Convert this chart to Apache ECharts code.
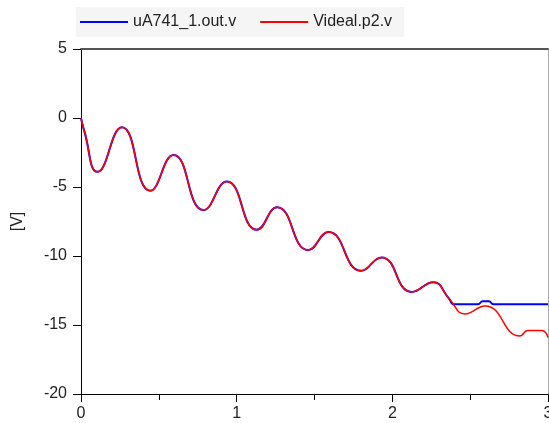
<!DOCTYPE html>
<html>
<head>
<meta charset="utf-8">
<script src="https://cdn.jsdelivr.net/npm/echarts@6/dist/echarts.min.js"></script>
<style>html,body{margin:0;padding:0;background:#fff}#c{width:549px;height:423px}</style>
</head>
<body>
<div id="c"></div>
<script>
const seriesNames = ['uA741_1.out.v', 'Videal.p2.v'];
const xTicks = [0, 1, 2, 3];
const yTicks = [-20, -15, -10, -5, 0, 5];
// time [s], value [V]
const idealT = [0, 0.02, 0.107, 0.263, 0.445, 0.595, 0.787, 0.937, 1.13, 1.26, 1.46, 1.59, 1.8, 1.93, 2.125, 2.263, 2.365, 2.467, 2.595, 2.82, 2.87, 2.96, 3.0];
const idealV = [0, -0.9, -3.9, -0.67, -5.27, -2.68, -6.67, -4.6, -8.1, -6.47, -9.57, -8.26, -11.07, -10.1, -12.6, -11.9, -13.1, -14.2, -13.62, -15.8, -15.4, -15.4, -15.9];
const opampT = [0, 0.02, 0.107, 0.263, 0.445, 0.595, 0.787, 0.937, 1.13, 1.26, 1.46, 1.59, 1.8, 1.93, 2.125, 2.263, 2.365, 2.395, 2.55, 2.58, 2.62, 2.65, 3.0];
const opampV = [0, -0.9, -3.9, -0.67, -5.27, -2.68, -6.67, -4.6, -8.1, -6.47, -9.57, -8.26, -11.07, -10.1, -12.6, -11.9, -13.1, -13.5, -13.5, -13.28, -13.28, -13.5, -13.5];

const zip = (a, b) => a.map((t, i) => [t, b[i]]);
const font = 'Liberation Sans, Arial, sans-serif';
const chart = echarts.init(document.getElementById('c'), null, {renderer: 'canvas'});
chart.setOption({
  animation: false,
  backgroundColor: '#ffffff',
  grid: {left: 81, top: 49, right: 1, bottom: 29, containLabel: false, outerBoundsMode: 'none'},
  legend: {
    left: 76, top: 7,
    padding: [7, 12, 7, 4],
    backgroundColor: '#f5f5f5',
    icon: 'rect',
    itemWidth: 48, itemHeight: 2, itemGap: 24,
    textStyle: {fontFamily: font, fontSize: 16, color: '#222', lineHeight: 16},
    data: seriesNames
  },
  xAxis: [{
    type: 'value', min: xTicks[0], max: xTicks[xTicks.length - 1], interval: 1,
    axisLine: {show: true, onZero: false, lineStyle: {color: '#000', width: 1}},
    axisTick: {show: true, inside: false, length: 8, lineStyle: {color: '#000'}},
    minorTick: {show: true, splitNumber: 2, length: 6, lineStyle: {color: '#000'}},
    splitLine: {show: false},
    axisLabel: {margin: 12, fontFamily: font, fontSize: 16, color: '#222'}
  }, {
    type: 'value', position: 'top', min: 0, max: 3,
    axisLine: {show: true, onZero: false, lineStyle: {color: '#555', width: 2}},
    axisTick: {show: false}, axisLabel: {show: false}, splitLine: {show: false}
  }],
  yAxis: [{
    type: 'value', min: yTicks[0], max: yTicks[yTicks.length - 1], interval: 5,
    name: '[V]', nameLocation: 'middle', nameGap: 55, nameRotate: 90,
    nameTextStyle: {fontFamily: font, fontSize: 16, color: '#222'},
    axisLine: {show: true, onZero: false, lineStyle: {color: '#000', width: 1}},
    axisTick: {show: true, inside: false, length: 8, lineStyle: {color: '#000'}},
    splitLine: {show: false},
    axisLabel: {margin: 14, fontFamily: font, fontSize: 16, color: '#222'}
  }, {
    type: 'value', position: 'right', min: -20, max: 5,
    axisLine: {show: true, onZero: false, lineStyle: {color: '#aaa', width: 1}},
    axisTick: {show: false}, axisLabel: {show: false}, splitLine: {show: false}
  }],
  series: [{
    name: seriesNames[0], type: 'line', data: zip(opampT, opampV),
    symbol: 'none', smooth: 0.5, color: '#0000ff',
    lineStyle: {color: '#0000ff', width: 2}
  }, {
    name: seriesNames[1], type: 'line', data: zip(idealT, idealV),
    symbol: 'none', smooth: 0.5, color: '#ff0000',
    lineStyle: {color: '#ff0000', width: 1.5}
  }]
});
</script>
</body>
</html>
